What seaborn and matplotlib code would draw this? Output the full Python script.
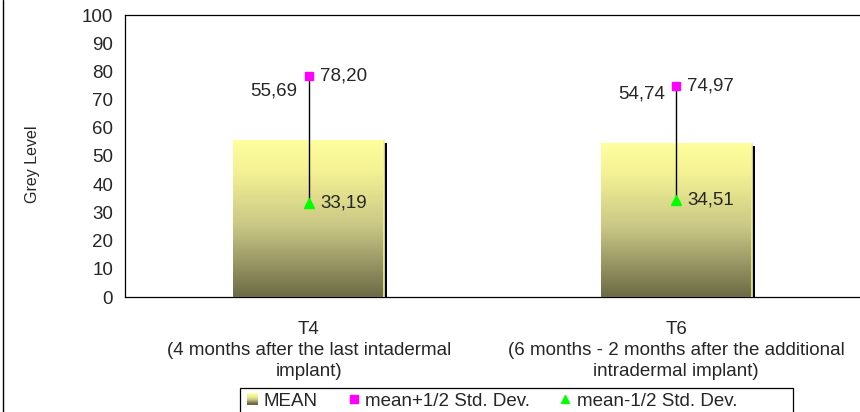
import numpy as np
import pandas as pd
import matplotlib
matplotlib.use("Agg")
import matplotlib.pyplot as plt
import seaborn as sns
import matplotlib.transforms as mtransforms
from matplotlib.colors import LinearSegmentedColormap
from matplotlib.patches import Patch, Rectangle
from matplotlib.lines import Line2D
from matplotlib.legend_handler import HandlerBase

# ================== data ==================
categories = ["T4", "T6"]
tick_labels = [
    "T4\n(4 months after the last intadermal\nimplant)",
    "T6\n(6 months - 2 months after the additional\nintradermal implant)",
]
mean_vals = [55.69, 54.74]
upper_vals = [78.20, 74.97]   # mean + 1/2 std dev
lower_vals = [33.19, 34.51]   # mean - 1/2 std dev

def fmt(v):
    return f"{v:.2f}".replace(".", ",")

df = pd.DataFrame({"cat": categories, "mean": mean_vals})

# ================== style ==================
sns.set_style("white")
plt.rcParams["font.family"] = ["Liberation Sans", "DejaVu Sans"]
FS = 13.5

grad = LinearSegmentedColormap.from_list(
    "bar", [(0.0, "#6C6A45"), (0.45, "#C9C785"), (0.8, "#F4F294"), (1.0, "#FFFF9E")])


class GradHandler(HandlerBase):
    # little gradient square for the MEAN legend entry
    def create_artists(self, legend, orig_handle, xdescent, ydescent, width, height,
                       fontsize, trans):
        n = 10
        out = []
        for k in range(n):
            out.append(Rectangle((-xdescent, -ydescent + height * k / n), width, height / n,
                                 facecolor=grad(k / (n - 1)), edgecolor="none",
                                 transform=trans))
        return out


fig = plt.figure(figsize=(8.6, 4.12), dpi=100)
ax = fig.add_axes([125 / 860, 1 - 297 / 412, 1 - 125 / 860, (297 - 15) / 412])

sns.barplot(data=df, x="cat", y="mean", width=0.41, color="#D8D68C", ax=ax,
            zorder=3, linewidth=0)

# gradient fill for the bars + drop shadow
shadow_tr = mtransforms.offset_copy(ax.transData, fig=fig, x=3, y=-3, units="dots")
for p in ax.patches[:]:
    x0, y0, w, h = p.get_x(), p.get_y(), p.get_width(), p.get_height()
    ax.add_patch(Rectangle((x0, y0), w, h, transform=shadow_tr, facecolor="black",
                           edgecolor="none", zorder=2, clip_on=True))
    im = ax.imshow(np.linspace(0, 1, 256).reshape(-1, 1), cmap=grad, origin="lower",
                   extent=[x0, x0 + w, y0, y0 + h], aspect="auto", zorder=3.5)
    im.set_clip_path(p)
    ax.plot([x0 + w, x0 + w], [y0, y0 + h], color="#F4F28C", lw=1.2, zorder=3.6,
            solid_capstyle="butt")

# std dev line + markers
xpos = np.arange(len(categories))
ax.vlines(xpos, lower_vals, upper_vals, color="black", lw=1, zorder=5)
ax.plot(xpos, upper_vals, ls="none", marker="s", ms=6, color="#FF00FF", zorder=6)
ax.plot(xpos, lower_vals, ls="none", marker="^", ms=7, color="#00FF00", zorder=6)

# value labels
for i in range(len(categories)):
    ax.annotate(fmt(mean_vals[i]), (xpos[i], mean_vals[i]), xytext=(-25, 35),
                textcoords="offset points", ha="center", va="center", fontsize=FS, zorder=7)
    ax.annotate(fmt(upper_vals[i]), (xpos[i], upper_vals[i]), xytext=(8, 0),
                textcoords="offset points", ha="left", va="center", fontsize=FS, zorder=7)
    ax.annotate(fmt(lower_vals[i]), (xpos[i], lower_vals[i]), xytext=(8, 0),
                textcoords="offset points", ha="left", va="center", fontsize=FS, zorder=7)

# axes
ax.set_ylim(0, 100)
ax.set_xlim(-0.5, len(categories) - 0.5)
ax.set_yticks(range(0, 101, 10))
ax.tick_params(axis="y", labelsize=FS, direction="inout", length=9, width=0.8, pad=4)
ax.set_xticks(np.arange(-0.5, len(categories), 1.0))
ax.set_xticklabels([])
ax.tick_params(axis="x", which="major", direction="out", length=5, width=0.8)
ax.set_xticks(xpos, minor=True)
ax.set_xticklabels(tick_labels, minor=True, fontsize=FS, linespacing=1.33)
ax.tick_params(axis="x", which="minor", length=0, pad=17)
ax.set_xlabel("")
ax.set_ylabel("Grey Level", fontsize=11.5)
ax.yaxis.set_label_coords(-0.115, 0.47)
for s in ["left", "bottom", "top"]:
    ax.spines[s].set_color("black")
    ax.spines[s].set_linewidth(0.9)
ax.spines["right"].set_visible(False)

# outer chart border (left edge)
fig.add_artist(Line2D([3 / 860, 3 / 860], [0, 1], color="black", lw=1))

# legend box + legend
fig.add_artist(Rectangle((240 / 860, -0.1), 553 / 860, 0.1 + 1 - 388 / 412,
                         transform=fig.transFigure, facecolor="white",
                         edgecolor="black", lw=0.9))
mean_handle = Patch(facecolor="#B9B774", label="MEAN")
handles = [
    mean_handle,
    Line2D([], [], ls="none", marker="s", ms=6, color="#FF00FF", label="mean+1/2 Std. Dev."),
    Line2D([], [], ls="none", marker="^", ms=6, color="#00FF00", label="mean-1/2 Std. Dev."),
]
leg = fig.legend(handles=handles, loc="center left",
                 bbox_to_anchor=(247 / 860, 1 - 401 / 412),
                 ncol=3, frameon=False, fontsize=FS, borderaxespad=0, borderpad=0,
                 columnspacing=1.6, handlelength=0.6, handleheight=0.55,
                 handletextpad=0.3, handler_map={mean_handle: GradHandler()})

fig.savefig("out.png", dpi=100)
